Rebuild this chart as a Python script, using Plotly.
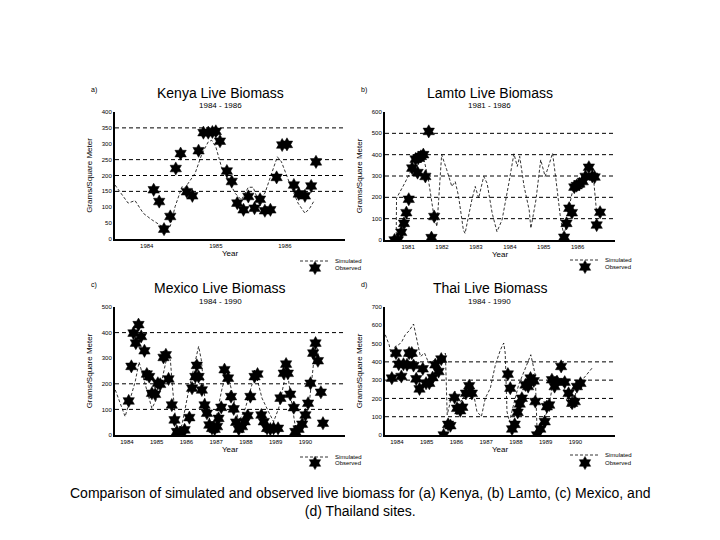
import plotly.graph_objects as go

# ---- data ----
kenya_obs_year = [1984.10, 1984.18, 1984.25, 1984.34, 1984.42, 1984.49, 1984.58, 1984.66, 1984.75, 1984.82,
                  1984.89, 1984.95, 1985.00, 1985.06, 1985.16, 1985.23, 1985.31, 1985.40, 1985.47, 1985.56,
                  1985.64, 1985.71, 1985.79, 1985.88, 1985.96, 1986.03, 1986.13, 1986.20, 1986.29, 1986.38,
                  1986.45]
kenya_obs_val = [155, 118, 31, 71, 222, 269, 149, 136, 278, 335,
                 335, 337, 339, 308, 214, 181, 113, 92, 134, 97,
                 125, 89, 92, 194, 296, 298, 170, 142, 136, 167,
                 243]
kenya_sim_year = [1983.54, 1983.73, 1983.83, 1983.95, 1984.07, 1984.22, 1984.34, 1984.41, 1984.51, 1984.55,
                  1984.70, 1984.80, 1984.89, 1984.94, 1985.00, 1985.08, 1985.18, 1985.28, 1985.37, 1985.47,
                  1985.54, 1985.61, 1985.71, 1985.81, 1985.89, 1985.95, 1986.05, 1986.19, 1986.29, 1986.36,
                  1986.43]
kenya_sim_val = [170, 113, 121, 81, 61, 40, 40, 102, 165, 160,
                 207, 269, 306, 311, 290, 228, 186, 144, 123, 163,
                 163, 123, 144, 207, 259, 243, 186, 113, 81, 97,
                 123]

lamto_obs_year = [1980.60, 1980.70, 1980.80, 1980.88, 1980.95, 1981.02, 1981.12, 1981.22, 1981.28, 1981.30,
                  1981.38, 1981.45, 1981.51, 1981.61, 1981.69, 1981.77, 1985.60, 1985.67, 1985.75, 1985.83,
                  1985.90, 1985.97, 1986.05, 1986.15, 1986.23, 1986.33, 1986.43, 1986.50, 1986.56, 1986.66]
lamto_obs_val = [0, 0, 36, 78, 128, 191, 337, 379, 316, 384,
                 392, 400, 298, 509, 11, 110, 13, 78, 149, 128,
                 248, 255, 263, 274, 298, 341, 298, 295, 70, 130]
lamto_sim_year = [1980.65, 1980.66, 1980.90, 1981.10, 1981.30, 1981.45, 1981.60, 1981.75, 1981.85, 1981.95,
                  1981.99, 1982.14, 1982.29, 1982.39, 1982.49, 1982.63, 1982.68, 1982.88, 1982.98, 1983.08,
                  1983.23, 1983.33, 1983.48, 1983.62, 1983.77, 1983.97, 1984.12, 1984.22, 1984.29, 1984.42,
                  1984.57, 1984.62, 1984.77, 1984.91, 1985.04, 1985.14, 1985.26, 1985.36, 1985.50, 1985.60,
                  1985.75, 1985.90, 1986.10, 1986.35, 1986.47, 1986.56]
lamto_sim_val = [0, 196, 266, 329, 376, 392, 282, 125, 63, 300,
                 400, 329, 251, 274, 204, 47, 31, 188, 251, 196,
                 298, 266, 125, 39, 94, 266, 404, 345, 392, 251,
                 141, 55, 188, 376, 298, 345, 407, 282, 94, 16,
                 157, 266, 280, 305, 282, 125]

mexico_obs_year = [1984.06, 1984.15, 1984.22, 1984.30, 1984.39, 1984.48, 1984.59, 1984.67, 1984.75, 1984.84,
                   1984.95, 1985.04, 1985.12, 1985.23, 1985.31, 1985.40, 1985.51, 1985.60, 1985.68, 1985.79,
                   1985.94, 1986.10, 1986.19, 1986.30, 1986.35, 1986.41, 1986.52, 1986.61, 1986.69, 1986.77,
                   1986.86, 1986.95, 1987.03, 1987.08, 1987.17, 1987.28, 1987.40, 1987.50, 1987.59, 1987.67,
                   1987.76, 1987.87, 1987.96, 1988.06, 1988.15, 1988.29, 1988.39, 1988.52, 1988.60, 1988.71,
                   1988.82, 1988.93, 1989.08, 1989.16, 1989.27, 1989.35, 1989.41, 1989.49, 1989.61, 1989.66,
                   1989.77, 1989.89, 1990.00, 1990.09, 1990.17, 1990.26, 1990.34, 1990.42, 1990.52, 1990.59]
mexico_obs_val = [133, 268, 398, 359, 431, 385, 329, 238, 228, 163,
                  159, 202, 198, 303, 313, 219, 117, 59, 13, 7,
                  20, 68, 183, 228, 272, 228, 176, 117, 85, 39,
                  26, 23, 33, 65, 108, 255, 222, 150, 102, 50,
                  23, 33, 52, 76, 150, 228, 238, 78, 52, 26,
                  23, 26, 26, 144, 241, 277, 241, 159, 107, 13,
                  23, 42, 78, 124, 202, 320, 359, 290, 167, 46]
mexico_sim_year = [1983.61, 1983.94, 1984.28, 1984.41, 1984.62, 1984.84, 1985.07, 1985.35, 1985.46, 1985.54,
                   1985.68, 1985.85, 1986.07, 1986.30, 1986.41, 1986.50, 1986.63, 1986.80, 1986.97, 1987.20,
                   1987.36, 1987.53, 1987.76, 1987.98, 1988.20, 1988.37, 1988.54, 1988.76, 1988.93, 1989.10,
                   1989.27, 1989.38, 1989.49, 1989.66, 1989.89, 1990.11, 1990.28, 1990.37, 1990.45]
mexico_sim_val = [176, 72, 209, 285, 196, 104, 157, 307, 294, 176,
                  13, 39, 170, 287, 346, 294, 131, 52, 52, 183,
                  248, 170, 52, 104, 196, 222, 144, 91, 52, 104,
                  196, 261, 163, 33, 52, 104, 287, 359, 294]

thai_obs_year = [1983.83, 1983.97, 1984.06, 1984.15, 1984.22, 1984.34, 1984.41, 1984.50, 1984.56, 1984.65,
                 1984.76, 1984.87, 1984.98, 1985.09, 1985.20, 1985.29, 1985.40, 1985.49, 1985.57, 1985.72,
                 1985.80, 1985.94, 1986.02, 1986.13, 1986.20, 1986.32, 1986.43, 1986.52, 1987.73, 1987.81,
                 1987.87, 1987.96, 1988.06, 1988.13, 1988.20, 1988.32, 1988.41, 1988.49, 1988.60, 1988.65,
                 1988.71, 1988.82, 1988.97, 1989.04, 1989.12, 1989.21, 1989.30, 1989.38, 1989.52, 1989.64,
                 1989.77, 1989.89, 1989.98, 1990.05, 1990.17]
thai_obs_val = [311, 448, 387, 320, 387, 384, 448, 448, 380, 307,
                252, 362, 283, 283, 314, 384, 347, 415, 0, 58,
                51, 205, 146, 133, 152, 228, 269, 228, 333, 256,
                33, 58, 124, 170, 201, 274, 265, 311, 296, 183,
                0, 33, 73, 155, 164, 302, 265, 292, 375, 289,
                228, 174, 183, 265, 283]
thai_sim_year = [1983.61, 1983.74, 1983.83, 1983.94, 1984.06, 1984.17, 1984.28, 1984.41, 1984.56, 1984.67,
                 1984.79, 1984.93, 1985.07, 1985.29, 1985.46, 1985.63, 1985.65, 1985.69, 1985.85, 1985.96,
                 1986.07, 1986.30, 1986.52, 1986.69, 1986.84, 1986.97, 1987.14, 1987.31, 1987.48, 1987.59,
                 1987.64, 1987.70, 1987.78, 1987.92, 1988.09, 1988.32, 1988.50, 1988.60, 1988.65, 1988.71,
                 1988.88, 1989.10, 1989.27, 1989.44, 1989.55, 1989.77, 1989.89, 1990.05, 1990.28, 1990.56]
thai_sim_val = [548, 493, 420, 484, 493, 512, 548, 570, 607, 512,
                429, 448, 393, 411, 420, 448, 302, 110, 219, 238,
                164, 219, 274, 128, 101, 201, 256, 384, 466, 503,
                448, 128, 73, 164, 274, 366, 439, 366, 329, 27,
                64, 146, 311, 311, 292, 155, 146, 256, 311, 366]

panels = [
    # name, subtitle, letter, obs x/y, sim x/y, x range, y max, y dtick, grid values, year ticks
    ("Kenya Live Biomass", "1984 - 1986", "a)", kenya_obs_year, kenya_obs_val, kenya_sim_year, kenya_sim_val,
     [1983.54, 1986.87], 400, 50, [150, 200, 250, 350], [1984, 1985, 1986]),
    ("Lamto Live Biomass", "1981 - 1986", "b)", lamto_obs_year, lamto_obs_val, lamto_sim_year, lamto_sim_val,
     [1980.32, 1987.1], 600, 100, [100, 200, 300, 400, 500], [1981, 1982, 1983, 1984, 1985, 1986]),
    ("Mexico Live Biomass", "1984 - 1990", "c)", mexico_obs_year, mexico_obs_val, mexico_sim_year, mexico_sim_val,
     [1983.6, 1991.33], 500, 100, [100, 200, 400], list(range(1984, 1991))),
    ("Thai Live Biomass", "1984 - 1990", "d)", thai_obs_year, thai_obs_val, thai_sim_year, thai_sim_val,
     [1983.6, 1991.33], 700, 100, [100, 200, 300, 400], list(range(1984, 1991))),
]

W, H = 720, 540
OFF = 8  # the page body margin moves the plot 8px right and down


def fx(px):
    return (px - OFF) / W


def fy(py):
    return 1 - (py - OFF) / H


# pixel boxes of the four plot areas (left, right, top, bottom)
boxes = [(115, 345, 112, 239), (385, 615, 112, 240), (115, 345, 307, 435), (385, 615, 307, 435)]
# pixel y of the "Simulated" / "Observed" legend rows under each panel
legend_rows = [(261, 268), (260, 267), (457, 463), (455, 463)]

fig = go.Figure()
FONT = "Liberation Sans, Arial, sans-serif"

for i, (name, sub, letter, ox, oy, sx, sy, xr, ymax, dt, grid, yrs) in enumerate(panels):
    n = "" if i == 0 else str(i + 1)
    leg_sim = "legend" + ("" if i == 0 else str(2 * i + 1))
    leg_obs = "legend" + str(2 * i + 2)
    fig.add_trace(go.Scatter(x=sx, y=sy, mode="lines", name="Simulated",
                             line=dict(color="black", width=0.8, dash="3px,2px"),
                             xaxis="x" + n, yaxis="y" + n, legend=leg_sim))
    fig.add_trace(go.Scatter(x=ox, y=oy, mode="markers", name="Observed",
                             marker=dict(symbol="hexagram", size=10, color="black",
                                         line=dict(color="black", width=0.5)),
                             xaxis="x" + n, yaxis="y" + n, legend=leg_obs))
    l, r, t, b = boxes[i]
    fig.layout["xaxis" + n] = dict(domain=[fx(l), fx(r)], anchor="y" + n, range=xr,
                                   tickvals=yrs, ticktext=[str(y) for y in yrs],
                                   tickfont=dict(size=6), showgrid=False, zeroline=False,
                                   showline=True, linecolor="black", linewidth=2, ticks="",
                                   title=dict(text="Year", font=dict(size=8), standoff=2))
    fig.layout["yaxis" + n] = dict(domain=[fy(b), fy(t)], anchor="x" + n, range=[0, ymax],
                                   dtick=dt, tickfont=dict(size=6), showgrid=False, zeroline=False,
                                   showline=True, linecolor="black", linewidth=2, ticks="",
                                   title=dict(text="Grams/Square Meter", font=dict(size=8), standoff=8))
    for g in grid:
        fig.add_shape(type="line", xref="x" + n + " domain", yref="y" + n, x0=0, x1=1, y0=g, y1=g,
                      line=dict(color="black", width=1, dash="4px,3px"))
    cx = (l + r) / 2 - 10
    fig.add_annotation(text=name, x=fx(cx), y=fy(t - 19), xref="paper", yref="paper",
                       xanchor="center", yanchor="middle", showarrow=False, font=dict(size=14))
    fig.add_annotation(text=sub, x=fx(cx), y=fy(t - 6), xref="paper", yref="paper",
                       xanchor="center", yanchor="middle", showarrow=False, font=dict(size=8))
    fig.add_annotation(text=letter, x=fx(l - 26), y=fy(t - 22), xref="paper", yref="paper",
                       xanchor="left", yanchor="middle", showarrow=False, font=dict(size=7))
    for leg, row in zip((leg_sim, leg_obs), legend_rows[i]):
        fig.layout[leg] = dict(x=fx(r - 50), y=fy(row), xanchor="left", yanchor="middle",
                               bgcolor="rgba(0,0,0,0)", font=dict(size=6), itemwidth=30)

fig.add_annotation(text="Comparison of simulated and observed live biomass for (a) Kenya, (b) Lamto, (c) Mexico, and<br>(d) Thailand sites.",
                   x=fx(360), y=fy(502), xref="paper", yref="paper", showarrow=False,
                   xanchor="center", yanchor="middle",
                   font=dict(size=14, color="black"), align="center")

fig.update_layout(width=W, height=H, margin=dict(l=0, r=0, t=0, b=0, autoexpand=False),
                  paper_bgcolor="white", plot_bgcolor="white", showlegend=True,
                  font=dict(family=FONT, color="black"))

fig.write_html("out.html")
